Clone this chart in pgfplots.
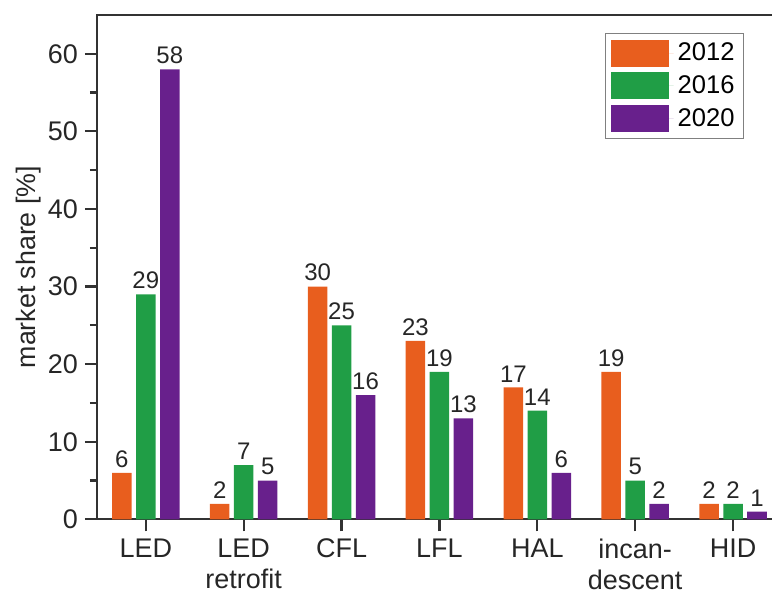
\documentclass[border=0pt]{standalone}
\usepackage{pgfplots}
\pgfplotsset{compat=1.18}
\usepackage{fontspec}
\setmainfont{Liberation Sans}

\definecolor{c12}{RGB}{232,94,30}
\definecolor{c16}{RGB}{32,158,70}
\definecolor{c20}{RGB}{104,32,140}
\definecolor{axcol}{RGB}{50,50,50}

\pgfplotsset{
  /pgf/number format/assume math mode=true,
  swatch/.style={legend image code/.code={
      \fill[##1] (0pt,-6.75pt) rectangle (29pt,6.75pt);
      \path (0pt,0pt) -- (31.5pt,0pt);}},
}

\begin{document}
\begin{tikzpicture}
\begin{axis}[
    scale only axis,
    width=343pt, height=252.5pt,
    xmin=-0.5, xmax=6.5,
    ymin=0, ymax=65,
    ybar, bar width=0.2,
    axis line style={axcol, line width=1.1pt},
    tick style={axcol, line width=1.1pt},
    tick align=outside,
    major tick length=6pt,
    minor tick length=3.5pt,
    xtick pos=bottom, ytick pos=left,
    xtick={0,...,6},
    xticklabels={LED, LED\\retrofit, CFL, LFL, HAL, incan-\\descent, HID},
    xticklabel style={font=\fontsize{13.5}{15.5}\selectfont, align=center, text=black!85,
        inner sep=0pt, yshift=-3.5pt},
    ytick={0,10,...,60},
    minor y tick num=1,
    yticklabel style={font=\fontsize{13.5}{15}\selectfont, text=black!85},
    ylabel={market share [\%]},
    ylabel style={font=\fontsize{13.4}{15}\selectfont, text=black!85, at={(axis description cs:-0.1,0.5)}, anchor=center},
    nodes near coords,
    nodes near coords style={font=\fontsize{12}{14}\selectfont, text=black!85, inner sep=2.5pt},
    legend style={at={(rel axis cs:0.742,0.964)}, anchor=north west,
        draw=gray, line width=0.6pt, font=\fontsize{12.8}{14}\selectfont,
        inner xsep=2.5pt, inner ysep=2.5pt, row sep=2pt,
        cells={anchor=west}},
]
\addplot[bar shift=-0.245, fill=c12, draw=none, swatch]
  coordinates {(0,6) (1,2) (2,30) (3,23) (4,17) (5,19) (6,2)};
\addplot[bar shift=0, fill=c16, draw=none, swatch]
  coordinates {(0,29) (1,7) (2,25) (3,19) (4,14) (5,5) (6,2)};
\addplot[bar shift=0.245, fill=c20, draw=none, swatch]
  coordinates {(0,58) (1,5) (2,16) (3,13) (4,6) (5,2) (6,1)};
\legend{2012, 2016, 2020}
% inward ticks on the right spine (cropped off in the original)
\pgfplotsinvokeforeach{0,10,20,30,40,50,60}{
  \draw[axcol, line width=1.1pt] (axis cs:6.5,#1) -- ++(-6pt,0);
}
\end{axis}
\pgfresetboundingbox
\path ([shift={(-48.5pt,-38pt)}]current axis.south west) rectangle ([shift={(-5pt,7.5pt)}]current axis.north east);
\end{tikzpicture}
\end{document}
